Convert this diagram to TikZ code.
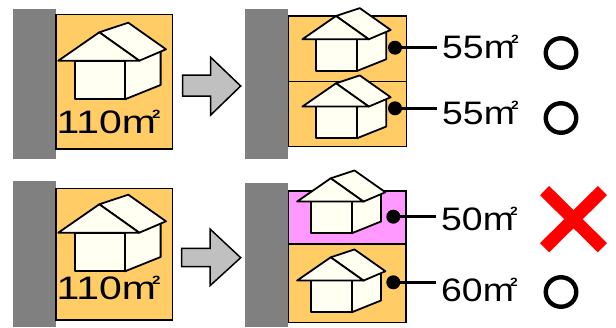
\documentclass[tikz,border=0pt]{standalone}
\usepackage{graphicx}
\usepackage{fontspec}
\setmainfont{Liberation Sans}
\usetikzlibrary{calc,shapes.geometric}
\definecolor{lotorange}{HTML}{FFCC66}
\definecolor{lotpink}{HTML}{FF99FF}
\definecolor{wallgray}{HTML}{808080}
\definecolor{arrowgray}{HTML}{C0C0C0}
\definecolor{houseivory}{HTML}{FFFFF2}
% square-metre sign: m with a small bold 2 tucked into its top right corner
\newcommand\sqmeter{m\kern-0.1em\raisebox{0.46em}{\fontsize{12}{12}\selectfont\bfseries 2}}
\newcommand\lotarea[1]{\scalebox{1.15}[1]{#1\sqmeter}}
\newcommand\fullarea[1]{\scalebox{1.26}[1]{#1\sqmeter}}
\tikzset{
  road/.style={fill=wallgray, draw=none},
  lot/.style={fill=lotorange, draw=black, line width=1.4pt},
  lotsmall/.style={fill=lotpink, draw=black, line width=1.4pt},
  blockarrow/.style={fill=arrowgray, draw=black, line width=1.5pt, line join=miter},
  pinpoint/.style={circle, fill=black, inner sep=0pt, minimum size=14pt},
  lead/.style={line width=3pt},
  area/.style={anchor=base west, inner sep=0pt, font=\fontsize{32.5}{32.5}\selectfont},
  okmark/.style={ellipse, draw=black, line width=4.4pt, minimum width=30.5pt, minimum height=29.5pt, inner sep=0pt},
  ngmark/.style={draw=red, line width=13pt, line cap=butt},
  house/.pic={
    \begin{scope}[draw=black, fill=houseivory, line width=1.8pt, line join=round]
      \filldraw (25.7,28.4) -- (61.3,19.3) -- (61.3,52.7) -- (25.7,67) -- cycle;
      \filldraw (-24.3,28.4) rectangle (25.7,67);
      \filldraw (0,0) -- (29,-9.6) -- (66.7,17) -- (40,28.4) -- cycle;
      \filldraw (-41,28.4) -- (0,0) -- (40,28.4) -- cycle;
    \end{scope}
  }
}
\begin{document}
\begin{tikzpicture}[x=1pt, y=-1pt]
\useasboundingbox (0,0) rectangle (616,327);

% ---- upper row: one 110 m2 lot split into two 55 m2 lots
\fill[road] (12.7,9.3) rectangle (56,159);
\draw[lot] (56,14.7) rectangle (172.7,149);
\pic at (99.3,32.3) {house};
\node[area] (big1) at (56.5,133) {\fullarea{110}};

\draw[blockarrow] (182.7,75) -- (210.7,75) -- (210.7,57.3) -- (240.7,86)
  -- (210.7,115) -- (210.7,96) -- (182.7,96) -- cycle;

\fill[road] (245,9.3) rectangle (287.7,159);
\draw[lot] (288.3,16) rectangle (406.7,81.7);
\draw[lot] (288.3,81.7) rectangle (406.7,146.7);
\pic[scale=0.82] at (336,16) {house};
\pic[scale=0.82] at (336,83.3) {house};

\node[pinpoint] (d1) at (395,47.7) {};
\node[pinpoint] (d2) at (395,108.3) {};
\node[area] (t1) at (442,58.5) {\lotarea{55}};
\node[area] (t2) at (442,124.5) {\lotarea{55}};
\draw[lead] (d1.center) -- ($(d1.center -| t1.west)+(-5,0)$);
\draw[lead] (d2.center) -- ($(d2.center -| t2.west)+(-5,0)$);
\node[okmark] (ok1) at (561,53) {};
\node[okmark] (ok2) at (561,118) {};

% ---- lower row: one 110 m2 lot split into 50 m2 and 60 m2 lots
\fill[road] (12.7,181) rectangle (56,327);
\draw[lot] (56,188.3) rectangle (172.7,320);
\pic at (99.3,204.3) {house};
\node[area] (big2) at (56.5,299) {\fullarea{110}};

\draw[blockarrow] (181.7,248.3) -- (210,248.3) -- (210,229) -- (240.7,257.7)
  -- (210,285.7) -- (210,266.7) -- (181.7,266.7) -- cycle;

\fill[road] (245,183.3) rectangle (287.7,327);
\draw[lotsmall] (288.3,191) rectangle (406,244);
\draw[lot] (288.3,244) rectangle (406,322.7);
\pic[scale=0.82] at (330.7,178.3) {house};
\pic[scale=0.82] at (330.7,257.3) {house};

\node[pinpoint] (d3) at (393.3,216.7) {};
\node[pinpoint] (d4) at (393.3,282.3) {};
\node[area] (t3) at (441,230) {\lotarea{50}};
\node[area] (t4) at (441,301) {\lotarea{60}};
\draw[lead] (d3.center) -- ($(d3.center -| t3.west)+(-5,0)$);
\draw[lead] (d4.center) -- ($(d4.center -| t4.west)+(-5,0)$);

\coordinate (ngA) at (544.6,190.6);
\coordinate (ngB) at (602.4,247.7);
\coordinate (ngC) at (602.4,190.6);
\coordinate (ngD) at (544.6,247.7);
\draw[ngmark] (ngA) -- (ngB);
\draw[ngmark] (ngC) -- (ngD);
\node[okmark] (ok4) at (561,292) {};
\end{tikzpicture}
\end{document}
